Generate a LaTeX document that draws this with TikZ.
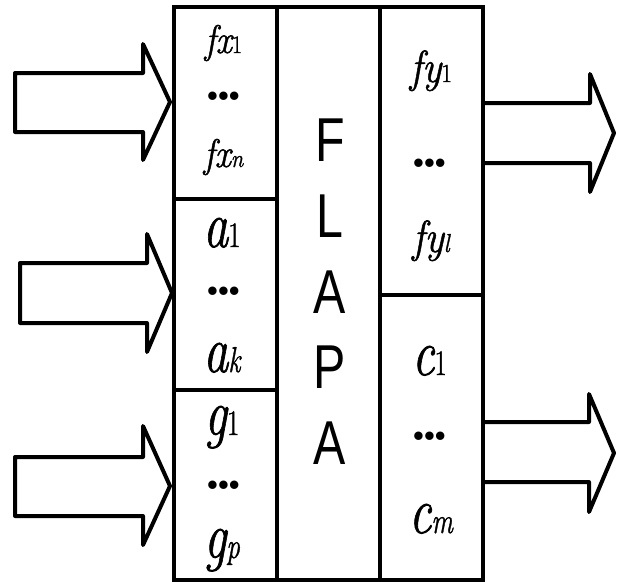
\documentclass[tikz,border=0pt]{standalone}
\usepackage{fontspec}
\setmainfont{Latin Modern Roman}[FakeBold=1.2]
\newfontfamily\arialf{Liberation Sans}
\newfontfamily\dotf{Liberation Serif}
\newcommand{\fsz}[1]{\fontsize{#1}{#1}\selectfont}
% main letters, subscript
\newcommand{\biglab}[2]{\scalebox{0.75}[1]{\fsz{66}\itshape #1\fsz{36}#2}}
\newcommand{\fxlab}[2]{\scalebox{0.9}[1]{\fsz{40}\itshape #1\fsz{25}#2}}
\newcommand{\fylab}[2]{\scalebox{0.9}[1]{\fsz{45}\itshape #1\fsz{26}#2}}
\newcommand{\dotrow}{\dotf\fsz{31}\bfseries •••}
\begin{document}
\begin{tikzpicture}[x=1pt,y=-1pt,
  cell/.style={draw=black,line width=4pt,minimum width=103pt,inner sep=0pt,anchor=north west},
  blockarrow/.style={draw=black,line width=4pt,line join=round,fill=white},
  lab/.style={anchor=base,inner sep=0pt},
  flap/.style={anchor=base,inner sep=0pt,font=\arialf\fsz{62}}]
\useasboundingbox (0,0) rectangle (618,581);
% cells
\node[cell,minimum height=192pt] (L1) at (172,5) {};
\node[cell,minimum height=191pt] (L2) at (172,197) {};
\node[cell,minimum height=190pt] (L3) at (172,388) {};
\node[cell,minimum height=573pt] (M) at (275,5) {};
\node[cell,minimum height=288pt] (R1) at (378,5) {};
\node[cell,minimum height=285pt] (R2) at (378,293) {};
% left arrows
\draw[blockarrow] (15,73) -- (143,73) -- (143,44) -- (170,102) -- (143,160) -- (143,132) -- (15,132) -- cycle;
\draw[blockarrow] (20,263) -- (147,263) -- (147,234) -- (172,293) -- (147,352) -- (147,323) -- (20,323) -- cycle;
\draw[blockarrow] (15,457) -- (143,457) -- (143,426) -- (170,486) -- (143,545) -- (143,516) -- (15,516) -- cycle;
% right arrows
\draw[blockarrow] (R1.east |- 0,103) -- (590,103) -- (590,74) -- (614,133) -- (590,192) -- (590,163) -- (R1.east |- 0,163);
\draw[blockarrow] (R2.east |- 0,422) -- (589,422) -- (589,394) -- (614,453) -- (589,512) -- (589,482) -- (R2.east |- 0,482);
% left column texts
\node[lab] (fx1) at (223.5,53) {\fxlab{fx}{\upshape 1}};
\node[lab] (d1) at (223.5,106) {\dotrow};
\node[lab] (fxn) at (223.5,167) {\fxlab{fx}{n}};
\node[lab] (a1) at (222,247) {\biglab{a}{\upshape 1}};
\node[lab] (d2) at (223.5,301) {\dotrow};
\node[lab] (ak) at (222,372) {\biglab{a}{k}};
\node[lab] (g1) at (222,435) {\biglab{g}{\upshape 1}};
\node[lab] (d3) at (223.5,495) {\dotrow};
\node[lab] (gp) at (222,558) {\biglab{g}{p}};
% right column texts
\node[lab] (fy1) at (431,82) {\fylab{fy}{\upshape 1}};
\node[lab] (d4) at (429.5,173) {\dotrow};
\node[lab] (fyl) at (431,252) {\fylab{fy}{l}};
\node[lab] (c1) at (429.5,375) {\biglab{c}{\upshape 1}};
\node[lab] (d5) at (429.5,446) {\dotrow};
\node[lab] (cm) at (431,533) {\biglab{c}{m}};
% FLAPA
\node[flap] (F) at (330,161) {\scalebox{0.78}[1]{F}};
\node[flap] (L) at (330,237) {\scalebox{0.78}[1]{L}};
\node[flap] (A1) at (330,313) {\scalebox{0.78}[1]{A}};
\node[flap] (P) at (330,388) {\scalebox{0.78}[1]{P}};
\node[flap] (A2) at (330,464) {\scalebox{0.78}[1]{A}};
\end{tikzpicture}
\end{document}
